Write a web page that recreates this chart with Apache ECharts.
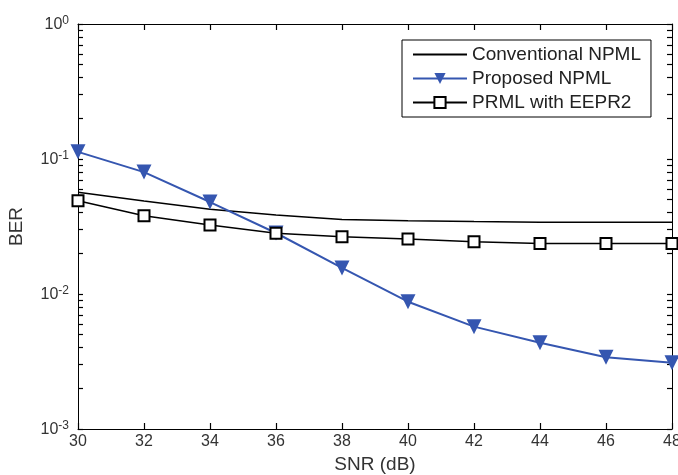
<!DOCTYPE html>
<html>
<head>
<meta charset="utf-8">
<script src="https://cdn.jsdelivr.net/npm/echarts@6/dist/echarts.min.js"></script>
<style>
html, body { margin: 0; padding: 0; background: #fff; }
#chart { width: 678px; height: 475px; }
</style>
</head>
<body>
<div id="chart"></div>
<script>
// SNR 轴
var snr = [30, 32, 34, 36, 38, 40, 42, 44, 46, 48];
// 三条曲线的 BER
var conventional = [0.0567, 0.0489, 0.0424, 0.0385, 0.0357, 0.0349, 0.0344, 0.034, 0.034, 0.034];
var proposed = [0.113, 0.080, 0.048, 0.0283, 0.0156, 0.00877, 0.00573, 0.00436, 0.0034, 0.0031];
var prml = [0.0491, 0.038, 0.0324, 0.0282, 0.0266, 0.0255, 0.0244, 0.0237, 0.0237, 0.0237];
// y 轴刻度
var yMajor = [0.001, 0.01, 0.1, 1];
var yTicks = [];
for (var d = 0; d < 3; d++) {
  for (var k = 1; k <= 9; k++) yTicks.push(+(k * yMajor[d]).toPrecision(3));
}
yTicks.push(1);

function pairs(ys) {
  return snr.map(function (x, i) { return [x, ys[i]]; });
}

var font = 'Liberation Sans, Arial, sans-serif';
var chart = echarts.init(document.getElementById('chart'));

var tickStyle = { color: '#000', width: 1.2 };

var baseX = {
  type: 'value',
  min: 30,
  max: 48,
  interval: 2,
  axisLine: { show: true, onZero: false, lineStyle: { color: '#000' } },
  axisTick: { show: true, inside: true, length: 6, lineStyle: tickStyle },
  splitLine: { show: false }
};

var baseY = {
  type: 'log',
  logBase: 10,
  min: 0.001,
  max: 1,
  axisLine: { show: true, onZero: false, lineStyle: { color: '#000', width: 1 } },
  axisTick: { show: true, inside: true, length: 5, customValues: yTicks, lineStyle: tickStyle },
  minorTick: { show: false },
  splitLine: { show: false }
};

var option = {
  animation: false,
  backgroundColor: '#fff',
  grid: {
    left: 78, right: 6, top: 24, bottom: 46,
    // 让刻度文字可以贴边，不压缩绘图区
    outerBounds: { left: -60, right: -60, top: -60, bottom: -60 }
  },
  legend: {
    orient: 'vertical',
    left: 402,
    top: 40,
    padding: [5, 10, 5, 10],
    itemGap: 5,
    itemWidth: 54,
    itemHeight: 14,
    borderColor: '#000',
    borderWidth: 1,
    backgroundColor: '#fff',
    textStyle: { fontFamily: font, fontSize: 19, color: '#222' },
    data: [
      { name: 'Conventional NPML', itemStyle: { opacity: 0 } },
      'Proposed NPML',
      'PRML with EEPR2'
    ]
  },
  xAxis: [
    Object.assign({}, baseX, {
      position: 'bottom',
      name: 'SNR (dB)',
      nameLocation: 'middle',
      nameGap: 24,
      nameTextStyle: { fontFamily: font, fontSize: 19, color: '#333' },
      axisLabel: { fontFamily: font, fontSize: 16, color: '#333', margin: 5 }
    }),
    Object.assign({}, baseX, {
      position: 'top',
      axisLabel: { show: false }
    })
  ],
  yAxis: [
    Object.assign({}, baseY, {
      position: 'left',
      name: 'BER',
      nameLocation: 'middle',
      nameGap: 52,
      nameTextStyle: { fontFamily: font, fontSize: 19, color: '#333' },
      axisLabel: {
        customValues: yMajor,
        margin: 9,
        formatter: function (v) {
          return '{b|10}{s|' + Math.round(Math.log10(v)) + '}';
        },
        rich: {
          b: { fontFamily: font, fontSize: 16, color: '#333', verticalAlign: 'bottom', lineHeight: 18 },
          s: { fontFamily: font, fontSize: 12, color: '#333', verticalAlign: 'top', lineHeight: 18, padding: [0, 0, 7, 0] }
        }
      }
    }),
    Object.assign({}, baseY, {
      position: 'right',
      axisLabel: { show: false }
    })
  ],
  series: [
    {
      name: 'Conventional NPML',
      type: 'line',
      data: pairs(conventional),
      symbol: 'none',
      lineStyle: { color: '#000', width: 1.5 },
      itemStyle: { color: '#000' }
    },
    {
      name: 'Proposed NPML',
      type: 'line',
      data: pairs(proposed),
      symbol: 'triangle',
      symbolRotate: 180,
      symbolSize: 15,
      lineStyle: { color: '#3556b0', width: 2 },
      itemStyle: { color: '#3556b0' }
    },
    {
      name: 'PRML with EEPR2',
      type: 'line',
      data: pairs(prml),
      symbol: 'rect',
      symbolSize: 11,
      lineStyle: { color: '#000', width: 1.5 },
      itemStyle: { color: '#fff', borderColor: '#000', borderWidth: 2 }
    }
  ]
};

chart.setOption(option);
</script>
</body>
</html>
